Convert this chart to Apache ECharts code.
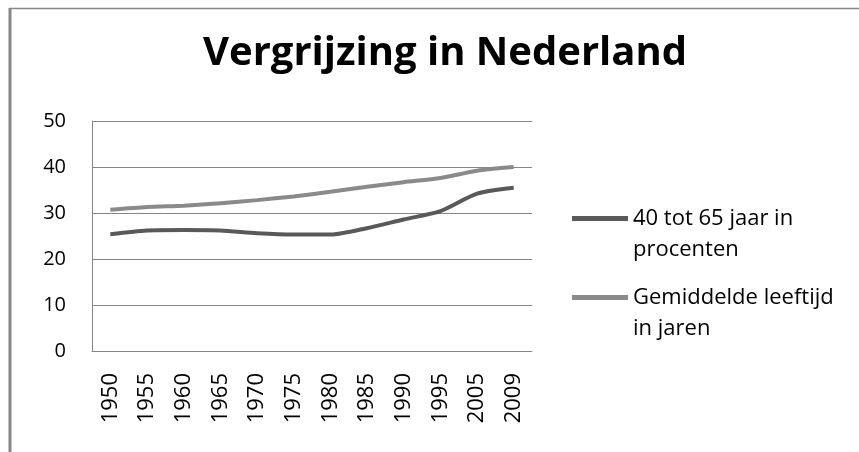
<!DOCTYPE html>
<html>
<head>
<meta charset="utf-8">
<script src="https://cdn.jsdelivr.net/npm/echarts@6/dist/echarts.min.js"></script>
<style>
  html, body { margin: 0; padding: 0; background: #fff; }
  #chart { width: 859px; height: 452px; }
</style>
</head>
<body>
<div id="chart"></div>
<script>
// data
const years = ['1950', '1955', '1960', '1965', '1970', '1975', '1980', '1985', '1990', '1995', '2005', '2009'];
const procenten4065 = [25.4, 26.2, 26.3, 26.2, 25.6, 25.3, 25.3, 26.7, 28.6, 30.4, 34.2, 35.5];
const gemLeeftijd = [30.7, 31.3, 31.6, 32.1, 32.8, 33.6, 34.6, 35.7, 36.7, 37.6, 39.2, 40.0];
const yTicks = { min: 0, max: 50, interval: 10 };

const nameA = '40 tot 65 jaar in procenten';
const nameB = 'Gemiddelde leeftijd in jaren';
const fontFam = '"Open Sans", "Noto Sans", sans-serif';

const chart = echarts.init(document.getElementById('chart'));

// one legend per series so each icon sits on the first line of its label
function legendFor(name, label, top) {
    return {
        data: [name],
        orient: 'vertical',
        left: 572,
        top: top,
        padding: 0,
        itemWidth: 56,
        itemHeight: 5,
        icon: 'rect',
        formatter: () => '\u00a0\n' + label,
        textStyle: {
            fontFamily: fontFam,
            fontSize: 22,
            color: '#000',
            lineHeight: 31
        }
    };
}

chart.setOption({
    animation: false,
    title: {
        text: 'Vergrijzing in Nederland',
        left: 203,
        top: 34,
        padding: 0,
        textStyle: {
            fontFamily: fontFam,
            fontWeight: 'bold',
            fontSize: 40,
            color: '#000'
        }
    },
    legend: [
        legendFor(nameA, '40 tot 65 jaar in\nprocenten', 172),
        legendFor(nameB, 'Gemiddelde leeftijd\nin jaren', 251)
    ],
    grid: {
        left: 92,
        top: 121,
        width: 440,
        height: 230
    },
    xAxis: {
        type: 'category',
        data: years,
        boundaryGap: true,
        axisLine: { lineStyle: { color: '#868686', width: 1 } },
        axisTick: { show: false },
        axisLabel: {
            rotate: 90,
            margin: 22,
            fontFamily: fontFam,
            fontSize: 22,
            color: '#000'
        }
    },
    yAxis: {
        type: 'value',
        min: yTicks.min,
        max: yTicks.max,
        interval: yTicks.interval,
        axisLine: { show: true, lineStyle: { color: '#868686', width: 1 } },
        axisTick: { show: false },
        splitLine: { lineStyle: { color: '#868686', width: 1 } },
        axisLabel: {
            margin: 26,
            fontFamily: fontFam,
            fontSize: 20,
            color: '#000'
        }
    },
    series: [
        {
            name: nameA,
            type: 'line',
            data: procenten4065,
            smooth: 0.25,
            showSymbol: false,
            lineStyle: { width: 4, color: '#595959' },
            itemStyle: { color: '#595959' }
        },
        {
            name: nameB,
            type: 'line',
            data: gemLeeftijd,
            smooth: 0.25,
            showSymbol: false,
            lineStyle: { width: 4, color: '#8a8a8a' },
            itemStyle: { color: '#8a8a8a' }
        }
    ],
    graphic: [
        // the frame around the chart object
        { type: 'line', shape: { x1: 10, y1: 8, x2: 10, y2: 452 }, style: { stroke: '#888', lineWidth: 3 } },
        { type: 'line', shape: { x1: 9, y1: 8.5, x2: 859, y2: 8.5 }, style: { stroke: '#888', lineWidth: 1.5 } }
    ]
});

window.addEventListener('resize', () => {
    chart.resize();
});
</script>
</body>
</html>
